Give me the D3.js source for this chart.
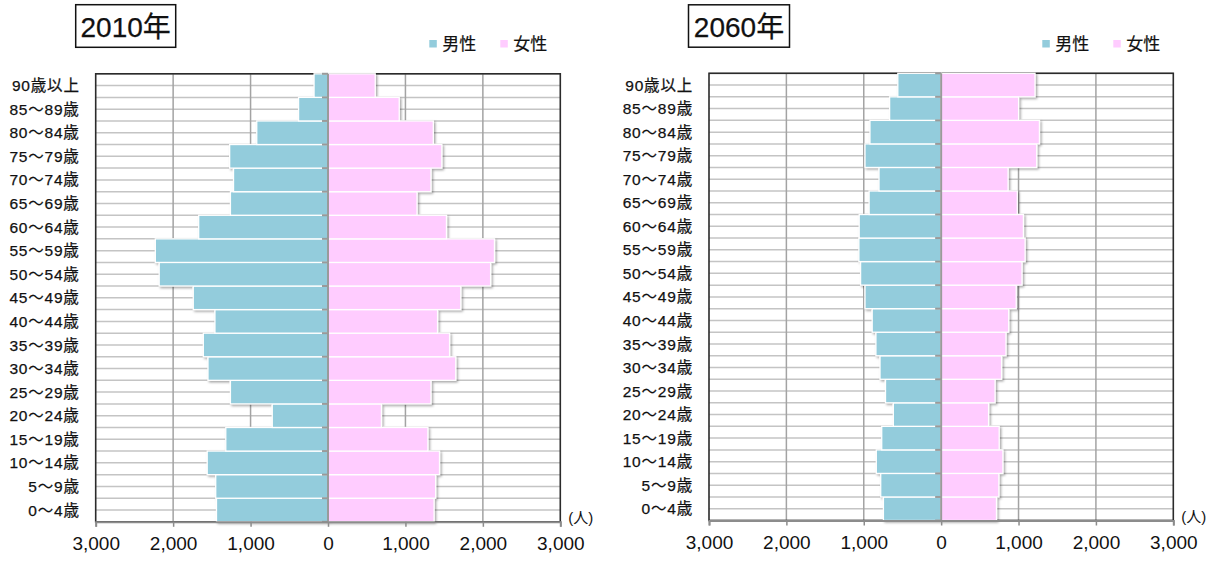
<!DOCTYPE html>
<html lang="ja">
<head>
<meta charset="utf-8">
<script src="https://cdn.jsdelivr.net/npm/d3@7"></script>
<style>
  html, body { margin: 0; padding: 0; background: #fff; }
  svg { display: block; }
  text { font-family: "Liberation Sans", Arial, "Noto Sans CJK JP", sans-serif; fill: #111; }
</style>
</head>
<body>
<svg id="chart" width="1216" height="561"></svg>
<script>
// Age groups, youngest first
const ageGroups = ["0〜4歳", "5〜9歳", "10〜14歳", "15〜19歳", "20〜24歳", "25〜29歳",
  "30〜34歳", "35〜39歳", "40〜44歳", "45〜49歳", "50〜54歳", "55〜59歳", "60〜64歳",
  "65〜69歳", "70〜74歳", "75〜79歳", "80〜84歳", "85〜89歳", "90歳以上"];

// Population (persons) by age group
const male2010   = [1440, 1450, 1560, 1320, 720, 1260, 1550, 1610, 1460, 1740, 2180, 2230, 1670, 1260, 1220, 1270, 920, 380, 180];
const female2010 = [1370, 1390, 1440, 1290, 690, 1330, 1650, 1570, 1415, 1715, 2100, 2150, 1530, 1150, 1330, 1470, 1360, 920, 610];
const male2060   = [746, 781, 838, 768, 618, 719, 790, 843, 891, 984, 1041, 1063, 1059, 931, 803, 984, 920, 666, 560];
const female2060 = [715, 746, 798, 750, 613, 697, 781, 838, 873, 970, 1045, 1085, 1063, 984, 865, 1235, 1270, 1001, 1213];

const tickValues = [-3000, -2000, -1000, 0, 1000, 2000, 3000];
const seriesNames = ["男性", "女性"];
const unitLabel = "(人)";

const colors = { male: "#93CCDC", female: "#FFCCFF" };

const svg = d3.select("#chart");

// soft shadow under each bar
const defs = svg.append("defs");
const f = defs.append("filter").attr("id", "barShadow")
  .attr("x", "-10%").attr("y", "-20%").attr("width", "130%").attr("height", "150%");
f.append("feDropShadow").attr("dx", 1.5).attr("dy", 1.5)
  .attr("stdDeviation", 1.2).attr("flood-color", "#000").attr("flood-opacity", 0.35);

function drawPyramid(cfg) {
  const { plot, title, male, female } = cfg;
  const g = svg.append("g");

  const x = d3.scaleLinear().domain([-3000, 3000]).range([plot.x0, plot.x1]);
  const y = d3.scaleBand().domain(ageGroups.slice().reverse())
    .range([plot.y0, plot.y1]).paddingInner(0).paddingOuter(0);
  const bw = y.bandwidth();

  // horizontal grid: every half row
  const hLines = d3.range(0, ageGroups.length * 2 + 1).map(i => plot.y0 + i * bw / 2);
  g.append("g").selectAll("line").data(hLines).join("line")
    .attr("x1", plot.x0).attr("x2", plot.x1)
    .attr("y1", d => d).attr("y2", d => d)
    .attr("stroke", "#c4c4c4").attr("stroke-width", 1.5);

  // vertical grid
  g.append("g").selectAll("line").data(tickValues.filter(v => Math.abs(v) !== 3000 && v !== 0)).join("line")
    .attr("x1", d => x(d)).attr("x2", d => x(d))
    .attr("y1", plot.y0).attr("y2", plot.y1)
    .attr("stroke", "#a3a3a3").attr("stroke-width", 1.5);

  // plot frame
  g.append("rect")
    .attr("x", plot.x0).attr("y", plot.y0)
    .attr("width", plot.x1 - plot.x0).attr("height", plot.y1 - plot.y0)
    .attr("fill", "none").attr("stroke", "#2b2b2b").attr("stroke-width", 1.6);

  // bars
  const rows = ageGroups.map((a, i) => ({ age: a, m: male[i], f: female[i] }));
  const bars = g.append("g").attr("filter", "url(#barShadow)");
  bars.selectAll("rect.m").data(rows).join("rect").attr("class", "m")
    .attr("x", d => x(-d.m)).attr("width", d => x(0) - x(-d.m))
    .attr("y", d => y(d.age)).attr("height", bw)
    .attr("fill", colors.male).attr("stroke", "#fff").attr("stroke-width", 1.3);
  bars.selectAll("rect.f").data(rows).join("rect").attr("class", "f")
    .attr("x", x(0)).attr("width", d => x(d.f) - x(0))
    .attr("y", d => y(d.age)).attr("height", bw)
    .attr("fill", colors.female).attr("stroke", "#fff").attr("stroke-width", 1.3);

  // category axis at zero with tick marks at row boundaries
  g.append("line")
    .attr("x1", x(0)).attr("x2", x(0)).attr("y1", plot.y0).attr("y2", plot.y1)
    .attr("stroke", "#9a9a9a").attr("stroke-width", 2);
  g.append("g").selectAll("line").data(d3.range(0, ageGroups.length + 1)).join("line")
    .attr("x1", x(0) - 6).attr("x2", x(0))
    .attr("y1", i => plot.y0 + i * bw).attr("y2", i => plot.y0 + i * bw)
    .attr("stroke", "#9a9a9a").attr("stroke-width", 2);

  // value axis
  const xAxis = d3.axisBottom(x).tickValues(tickValues)
    .tickFormat(d => d3.format(",")(Math.abs(d))).tickSize(5).tickPadding(10);
  const ax = g.append("g").attr("transform", `translate(0,${plot.y1})`).call(xAxis);
  ax.select(".domain").attr("stroke", "#8c8c8c").attr("stroke-width", 2);
  ax.selectAll(".tick line").attr("stroke", "#8c8c8c").attr("stroke-width", 1.5);
  ax.selectAll(".tick text").attr("font-size", 19).attr("fill", "#111")
    .attr("font-family", "Liberation Sans, Arial, sans-serif");

  // age labels
  g.append("g").selectAll("text").data(ageGroups).join("text")
    .attr("x", plot.x0 - 16).attr("y", d => y(d) + bw / 2)
    .attr("dy", "0.36em").attr("text-anchor", "end")
    .attr("font-size", 15.5).attr("letter-spacing", "0.8px")
    .attr("stroke", "#111").attr("stroke-width", 0.25)
    .text(d => d);

  // unit
  g.append("text").attr("x", plot.x1 + 8).attr("y", plot.y1 - 4)
    .attr("dy", "0.36em").attr("font-size", 15).text(unitLabel);

  // title box
  g.append("rect").attr("x", title.x).attr("y", title.y)
    .attr("width", title.w).attr("height", title.h)
    .attr("fill", "#fff").attr("stroke", "#111").attr("stroke-width", 1.5);
  g.append("text").attr("x", title.x + title.w / 2).attr("y", title.y + 32)
    .attr("text-anchor", "middle").attr("font-size", 28)
    .attr("stroke", "#111").attr("stroke-width", 0.25)
    .text(cfg.label);

  // legend
  const lx = plot.x1 - 131;
  const legend = g.append("g");
  [colors.male, colors.female].forEach((c, i) => {
    const ox = lx + i * 71;
    legend.append("rect").attr("x", ox).attr("y", 40).attr("width", 7.5).attr("height", 7.5).attr("fill", c);
    legend.append("text").attr("x", ox + 13).attr("y", 43.8).attr("dy", "0.36em")
      .attr("font-size", 17).attr("font-family", "Noto Sans CJK JP, sans-serif")
      .attr("stroke", "#111").attr("stroke-width", 0.2)
      .text(seriesNames[i]);
  });
}

drawPyramid({
  label: "2010年",
  male: male2010, female: female2010,
  plot: { x0: 95.7, x1: 560.3, y0: 73.8, y1: 521.8 },
  title: { x: 75.7, y: 4.7, w: 100, h: 42.6 }
});

drawPyramid({
  label: "2060年",
  male: male2060, female: female2060,
  plot: { x0: 709, x1: 1173.3, y0: 73.3, y1: 520.5 },
  title: { x: 688.5, y: 4.8, w: 101, h: 42.4 }
});
</script>
</body>
</html>
